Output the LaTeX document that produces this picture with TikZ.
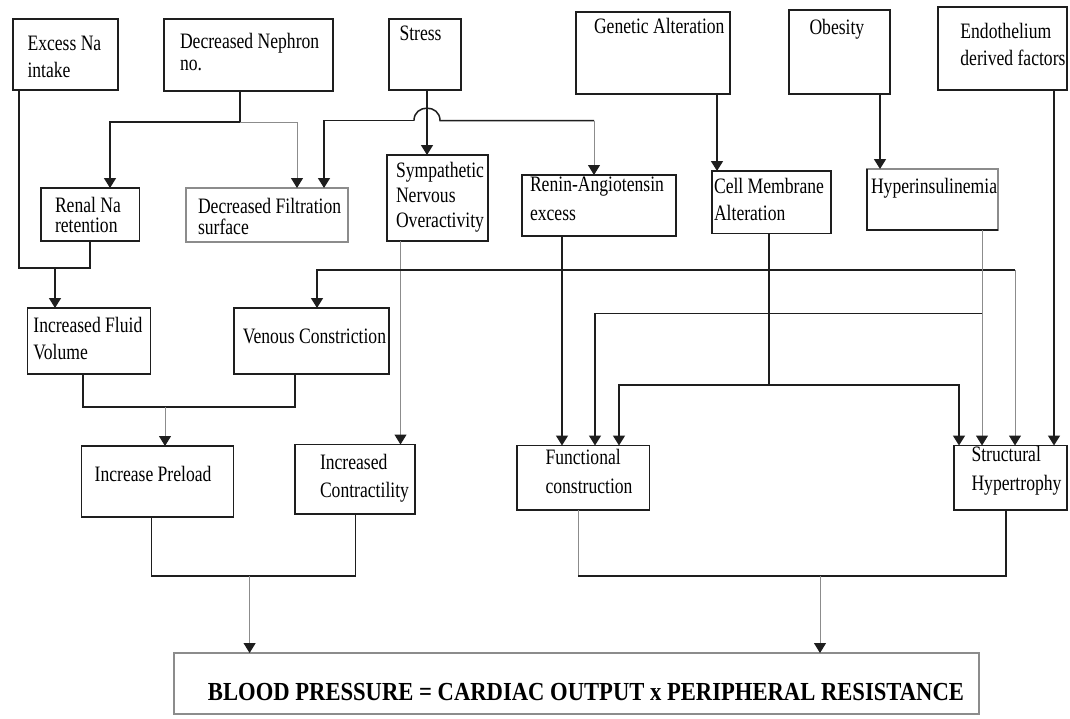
\documentclass[tikz,border=0pt]{standalone}
\usepackage{fontspec}
\setmainfont{Liberation Serif}[FakeStretch=0.8]
\usepackage{graphicx}
\usetikzlibrary{arrows.meta}
\definecolor{ink}{HTML}{1E1E1E}
\definecolor{lite}{HTML}{8C8C8C}
\tikzset{
 box/.style={draw=ink, line width=1.6pt, rectangle, inner sep=0pt, outer sep=0pt},
 litebox/.style={box, draw=lite, line width=1.2pt},
 txt/.style={inner sep=0pt, outer sep=0pt, anchor=base west, font=\fontsize{22}{27}\selectfont},
 ln/.style={draw=ink, line width=1.5pt},
 gl/.style={draw=lite, line width=1pt},
 arr/.style={-{Triangle[width=12pt,length=10pt,color=ink]}},
}
\newcommand\bx[6]{\node[#6, minimum width={#4-#2}, minimum height={#5-#3}] (#1) at ({(#2+#4)/2},{(#3+#5)/2}) {};}
\newcommand\tx[4]{\node[txt] (#1) at (#2,#3) {\begin{tabular}[t]{@{}l@{}}#4\end{tabular}};}
\begin{document}
\begin{tikzpicture}[x=1pt,y=-1pt]
\useasboundingbox[fill=white] (0,0) rectangle (1070,718);
% boxes
\bx{excess}{13}{19}{118}{90}{box}
\bx{nephron}{164}{19}{333}{91}{box}
\bx{stress}{389}{19}{461}{90}{box}
\bx{genetic}{576}{12}{730}{94}{box}
\bx{obesity}{789}{10}{890}{94}{box}
\bx{endo}{938}{7}{1067}{90}{box}
\bx{renal}{41}{188}{139.5}{241}{box}
\bx{filtr}{186}{188}{348}{242}{litebox}
\bx{symp}{387}{155}{488}{241}{box}
\bx{renin}{522}{175}{676}{236}{box}
\bx{cell}{712}{171}{831}{233.5}{box}
\bx{hyper}{867}{169}{998}{230}{litebox}
\draw[ln, line width=1.6pt] (hyper.north west) |- (hyper.south east);
\bx{fluid}{27.5}{308}{150.5}{374}{box}
\bx{venous}{234}{308}{389}{374}{box}
\bx{preload}{81.6}{446}{233.5}{517}{box}
\bx{contr}{295}{444.5}{415}{514}{box}
\bx{func}{517}{445.5}{649.5}{510}{box}
\bx{struct}{954}{445.5}{1067}{510}{box}
\bx{bp}{174}{653}{979}{714}{litebox}
% texts
\tx{excess-t}{27.5}{50}{Excess Na\\[0.5pt]intake}
\tx{nephron-t}{180}{48}{Decreased Nephron\\[-5pt]no.}
\tx{stress-t}{399.5}{40}{Stress}
\tx{genetic-t}{594}{33}{Genetic Alteration}
\tx{obesity-t}{809.5}{34}{Obesity}
\tx{endo-t}{960.4}{38.6}{Endothelium\\derived factors}
\tx{renal-t}{55}{212.5}{Renal Na\\[-7pt]retention}
\tx{filtr-t}{198}{213}{Decreased Filtration\\[-6pt]surface}
\tx{symp-t}{396}{177.3}{Sympathetic\\[-2pt]Nervous\\[-2pt]Overactivity}
\tx{renin-t}{530}{191}{Renin-Angiotensin\\[2pt]excess}
\tx{cell-t}{714}{193}{Cell Membrane\\Alteration}
\tx{hyper-t}{871}{193}{Hyperinsulinemia}
\tx{fluid-t}{33.4}{332}{Increased Fluid\\[0.5pt]Volume}
\tx{venous-t}{242.8}{343}{Venous Constriction}
\tx{preload-t}{94.7}{481.6}{Increase Preload}
\tx{contr-t}{320}{469.6}{Increased\\[0.5pt]Contractility}
\tx{func-t}{545.5}{464.4}{Functional\\[2pt]construction}
\tx{struct-t}{971.5}{461}{Structural\\[2pt]Hypertrophy}
\node[inner sep=0pt, anchor=base] (bp-t) at (586,700) {\resizebox{756pt}{\height}{\bfseries\fontsize{26}{30}\selectfont BLOOD PRESSURE = CARDIAC OUTPUT x PERIPHERAL RESISTANCE}};
% junction coordinates
\coordinate (jA) at (55,268);
\coordinate (jB) at (240,122);
\coordinate (jS) at (414,120.5);
\coordinate (jV) at (1015,270);
\coordinate (jH) at (982,313.7);
\coordinate (jC) at (769,385);
\coordinate (jF) at (165,407);
\coordinate (jP) at (249.6,576);
\coordinate (jR) at (820,576);
% connectors
\draw[ln] (excess.south -| 19,0) -- (19,268) -| (renal.south -| 90,0);
\draw[ln,arr] (jA) -- (fluid.north -| jA);
\draw[ln] (nephron.south -| jB) -- (jB);
\draw[ln,arr] (jB) -| (renal.north -| 110,0);
\draw[gl,arr] (jB) -| (filtr.north -| 297,0);
\draw[ln,arr] (stress.south -| 427,0) -- (symp.north -| 427,0);
\draw[ln,arr] (jS) -| (filtr.north -| 324,0);
\draw[ln] (jS) .. controls (414,104) and (440,104) .. (440,120.5) -- (594,120.5);
\draw[gl,arr] (594,120.5) -- (renin.north -| 594,0);
\draw[ln,arr] (genetic.south -| 717,0) -- (cell.north -| 717,0);
\draw[ln,arr] (obesity.south -| 880,0) -- (hyper.north -| 880,0);
\draw[ln,arr] (endo.south -| 1054,0) -- (struct.north -| 1054,0);
\draw[gl,arr] (symp.south -| 400.5,0) -- (contr.north -| 400.5,0);
\draw[ln,arr] (jV) -| (venous.north -| 317,0);
\draw[gl,arr] (jV) -- (struct.north -| jV);
\draw[ln] (fluid.south -| 83,0) -- (83,407) -| (venous.south -| 295,0);
\draw[gl,arr] (jF) -- (preload.north -| jF);
\draw[ln,arr] (renin.south -| 562,0) -- (func.north -| 562,0);
\draw[gl,arr] (hyper.south -| jH) -- (struct.north -| jH);
\draw[ln,arr] (jH) -| (func.north -| 595,0);
\draw[ln] (cell.south -| jC) -- (jC);
\draw[ln,arr] (jC) -| (func.north -| 619,0);
\draw[ln,arr] (jC) -| (struct.north -| 959,0);
\draw[ln] (preload.south -| 151.5,0) -- (151.5,576) -| (contr.south -| 355.4,0);
\draw[gl,arr] (jP) -- (bp.north -| jP);
\draw[gl] (func.south -| 578,0) -- (578,576);
\draw[ln] (578,576) -| (struct.south -| 1006,0);
\draw[gl,arr] (jR) -- (bp.north -| jR);
\end{tikzpicture}
\end{document}
